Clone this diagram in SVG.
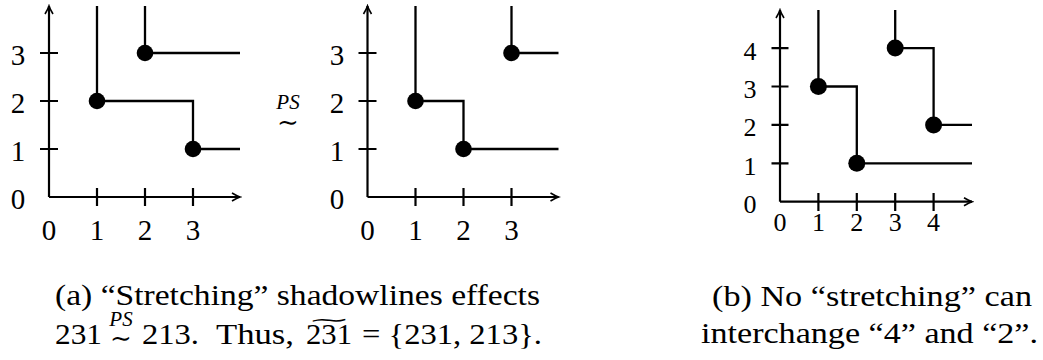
<svg xmlns="http://www.w3.org/2000/svg" width="1043" height="360" viewBox="0 0 1043 360">
<style>
  .ax { stroke:#000; stroke-width:2.2; fill:none; }
  .tk { stroke:#000; stroke-width:2.2; fill:none; }
  .sl { stroke:#000; stroke-width:2.3; fill:none; }
  .dot { fill:#000; }
  text { font-family:'Liberation Serif','DejaVu Serif',serif; fill:#000; }
  .lab { font-size:29px; text-anchor:middle; }
  .labs { font-size:26px; text-anchor:middle; }
  .cap { font-size:29.5px; }
  .rel { text-anchor:middle; }
  .it { font-style:italic; font-size:21px; }
  .sim { font-family:'DejaVu Serif',serif; font-size:26px; font-style:normal; }
</style>
<defs>
  <marker id="arr" viewBox="-10 -6 12 12" refX="0" refY="0" markerWidth="12" markerHeight="12" markerUnits="userSpaceOnUse" orient="auto">
    <path d="M-8,-4 Q-3,-1 0,0 Q-3,1 -8,4" stroke="#000" stroke-width="1.6" fill="none"/>
  </marker>
</defs>

<!-- Plot (a) left -->
<g id="plot-a1">
  <g id="axes-a1">
    <path class="ax" d="M49,197 V6" marker-end="url(#arr)"/>
    <path class="ax" d="M49,197 H240" marker-end="url(#arr)"/>
    <path class="tk" d="M97,188 V206 M145,188 V206 M193,188 V206 M40,149 H58 M40,101 H58 M40,53 H58"/>
    <text class="lab" x="49" y="240">0</text>
    <text class="lab" x="97" y="240">1</text>
    <text class="lab" x="145" y="240">2</text>
    <text class="lab" x="193" y="240">3</text>
    <text class="lab" x="18" y="208.5">0</text>
    <text class="lab" x="18" y="160.5">1</text>
    <text class="lab" x="18" y="112.5">2</text>
    <text class="lab" x="18" y="64.5">3</text>
  </g>
  <g id="connectors-a1">
    <path class="sl" d="M97,6 V101 H193 V149 H240"/>
    <path class="sl" d="M145,6 V53 H240"/>
  </g>
  <g id="a1-p1"><circle class="dot" cx="97" cy="101" r="8.3"/></g>
  <g id="a1-p2"><circle class="dot" cx="145" cy="53" r="8.3"/></g>
  <g id="a1-p3"><circle class="dot" cx="193" cy="149" r="8.3"/></g>
</g>

<!-- PS relation -->
<g id="rel-ps">
  <text class="rel"><tspan class="it" x="288" y="109">PS</tspan><tspan class="sim" x="288" y="131">∼</tspan></text>
</g>

<!-- Plot (a) right -->
<g id="plot-a2">
  <g id="axes-a2">
    <path class="ax" d="M367.5,197 V6" marker-end="url(#arr)"/>
    <path class="ax" d="M367.5,197 H558.5" marker-end="url(#arr)"/>
    <path class="tk" d="M415.5,188 V206 M463.5,188 V206 M511.5,188 V206 M358.5,149 H376.5 M358.5,101 H376.5 M358.5,53 H376.5"/>
    <text class="lab" x="367.5" y="240">0</text>
    <text class="lab" x="415.5" y="240">1</text>
    <text class="lab" x="463.5" y="240">2</text>
    <text class="lab" x="511.5" y="240">3</text>
    <text class="lab" x="337" y="208.5">0</text>
    <text class="lab" x="337" y="160.5">1</text>
    <text class="lab" x="337" y="112.5">2</text>
    <text class="lab" x="337" y="64.5">3</text>
  </g>
  <g id="connectors-a2">
    <path class="sl" d="M415.5,6 V101 H463.5 V149 H558.5"/>
    <path class="sl" d="M511.5,6 V53 H558.5"/>
  </g>
  <g id="a2-p1"><circle class="dot" cx="415.5" cy="101" r="8.3"/></g>
  <g id="a2-p2"><circle class="dot" cx="463.5" cy="149" r="8.3"/></g>
  <g id="a2-p3"><circle class="dot" cx="511.5" cy="53" r="8.3"/></g>
</g>

<!-- Plot (b) -->
<g id="plot-b">
  <g id="axes-b">
    <path class="ax" d="M780,201.7 V10" marker-end="url(#arr)"/>
    <path class="ax" d="M780,201.7 H972" marker-end="url(#arr)"/>
    <path class="tk" d="M818.4,193 V211 M856.8,193 V211 M895.2,193 V211 M933.6,193 V211 M771.5,163.3 H788.5 M771.5,124.9 H788.5 M771.5,86.5 H788.5 M771.5,48.1 H788.5"/>
    <text class="labs" x="780" y="231">0</text>
    <text class="labs" x="818.4" y="231">1</text>
    <text class="labs" x="856.8" y="231">2</text>
    <text class="labs" x="895.2" y="231">3</text>
    <text class="labs" x="933.6" y="231">4</text>
    <text class="labs" x="750" y="213">0</text>
    <text class="labs" x="750" y="174.8">1</text>
    <text class="labs" x="750" y="136.4">2</text>
    <text class="labs" x="750" y="98">3</text>
    <text class="labs" x="750" y="59.6">4</text>
  </g>
  <g id="connectors-b">
    <path class="sl" d="M818.4,10 V86.5 H856.8 V163.3 H972"/>
    <path class="sl" d="M895.2,10 V48.1 H933.6 V124.9 H972"/>
  </g>
  <g id="b-p1"><circle class="dot" cx="818.4" cy="86.5" r="8.5"/></g>
  <g id="b-p2"><circle class="dot" cx="856.8" cy="163.3" r="8.5"/></g>
  <g id="b-p3"><circle class="dot" cx="895.2" cy="48.1" r="8.5"/></g>
  <g id="b-p4"><circle class="dot" cx="933.6" cy="124.9" r="8.5"/></g>
</g>

<!-- Captions -->
<g id="caption-a">
  <text class="cap" x="55" y="305" textLength="485" lengthAdjust="spacingAndGlyphs">(a) “Stretching” shadowlines effects</text>
  <text class="cap" x="55" y="344" textLength="47" lengthAdjust="spacingAndGlyphs">231</text>
  <text class="rel"><tspan class="it" x="121" y="326">PS</tspan><tspan class="sim" x="121" y="347">∼</tspan></text>
  <text class="cap" x="142" y="344" textLength="57" lengthAdjust="spacingAndGlyphs">213.</text>
  <text class="cap" x="216" y="344" textLength="78" lengthAdjust="spacingAndGlyphs">Thus,</text>
  <text class="cap" x="306" y="344" textLength="46" lengthAdjust="spacingAndGlyphs">231</text>
  <text class="sim" transform="translate(329,326) scale(2,0.7)" text-anchor="middle">∼</text>
  <text class="cap" x="362" y="344" textLength="180" lengthAdjust="spacingAndGlyphs">= {231, 213}.</text>
</g>
<g id="caption-b">
  <text class="cap" x="712" y="306" textLength="320" lengthAdjust="spacingAndGlyphs">(b) No “stretching” can</text>
  <text class="cap" x="701" y="343" textLength="337" lengthAdjust="spacingAndGlyphs">interchange “4” and “2”.</text>
</g>
</svg>
